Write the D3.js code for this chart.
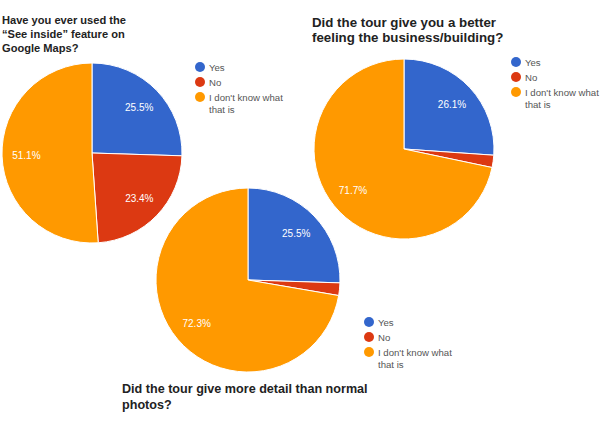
<!DOCTYPE html>
<html><head><meta charset="utf-8">
<script src="https://cdn.jsdelivr.net/npm/d3@7"></script>
<style>body{margin:0;background:#fff}svg{display:block}</style>
</head><body>
<script>
const categories = ["Yes", "No", "I don't know what that is"];
const colors = ["#3366cc", "#dc3912", "#ff9900"];
const values1 = [25.5, 23.4, 51.1];
const values2 = [26.1, 2.2, 71.7];
const values3 = [25.5, 2.2, 72.3];
const title1 = ["Have you ever used the", "\u201cSee inside\u201d feature on", "Google Maps?"];
const title2 = ["Did the tour give you a better", "feeling the business/building?"];
const title3 = ["Did the tour give more detail than normal", "photos?"];

const W = 600, H = 424;
const svg = d3.select("body").append("svg").attr("width", W).attr("height", H);
const font = "Liberation Sans, Arial, sans-serif";
const color = d3.scaleOrdinal().domain(categories).range(colors);

const charts = [
  {values: values1, cx: 92, cy: 153, r: 90, title: title1, tfs: 11.1, tlh: 14, tx: 2, ty: 24, lx: 200, ly: 67},
  {values: values2, cx: 404, cy: 149, r: 90, title: title2, tfs: 13.3, tlh: 14.5, tx: 312, ty: 27, lx: 516, ly: 62},
  {values: values3, cx: 248, cy: 280, r: 92, title: title3, tfs: 12.6, tlh: 16, tx: 122, ty: 393, lx: 369, ly: 322}
];

charts.forEach(c => {
  const data = categories.map((k, i) => ({key: k, value: c.values[i]}));
  const pie = d3.pie().value(d => d.value).sort(null);
  const arc = d3.arc().innerRadius(0).outerRadius(c.r);
  const labelArc = d3.arc().innerRadius(c.r * 0.73).outerRadius(c.r * 0.73);
  const g = svg.append("g").attr("transform", `translate(${c.cx},${c.cy})`);
  const arcs = pie(data);
  g.selectAll("path").data(arcs).join("path")
    .attr("d", arc).attr("fill", d => color(d.data.key))
    .attr("stroke", "#fff").attr("stroke-width", 1);
  g.selectAll("text").data(arcs.filter(d => d.data.value > 5)).join("text")
    .attr("transform", d => `translate(${labelArc.centroid(d)})`)
    .attr("text-anchor", "middle").attr("dy", "0.35em")
    .attr("fill", "#fff").attr("font-family", font).attr("font-size", 10)
    .text(d => d.data.value.toFixed(1) + "%");

  const t = svg.append("text").attr("font-family", font).attr("font-size", c.tfs)
    .attr("font-weight", "bold").attr("fill", "#222");
  c.title.forEach((line, i) => {
    t.append("tspan").attr("x", c.tx).attr("y", c.ty + i * c.tlh).text(line);
  });

  const lg = svg.append("g").attr("transform", `translate(${c.lx},${c.ly})`);
  categories.forEach((k, i) => {
    lg.append("circle").attr("cx", 0).attr("cy", i * 15).attr("r", 5).attr("fill", color(k));
    const words = i === 2 ? ["I don't know what", "that is"] : [k];
    const tx = lg.append("text").attr("font-family", font).attr("font-size", 9.6).attr("fill", "#555");
    words.forEach((w, j) => tx.append("tspan").attr("x", 9).attr("y", i * 15 + 3.5 + j * 12).text(w));
  });
});
</script>
</body></html>
